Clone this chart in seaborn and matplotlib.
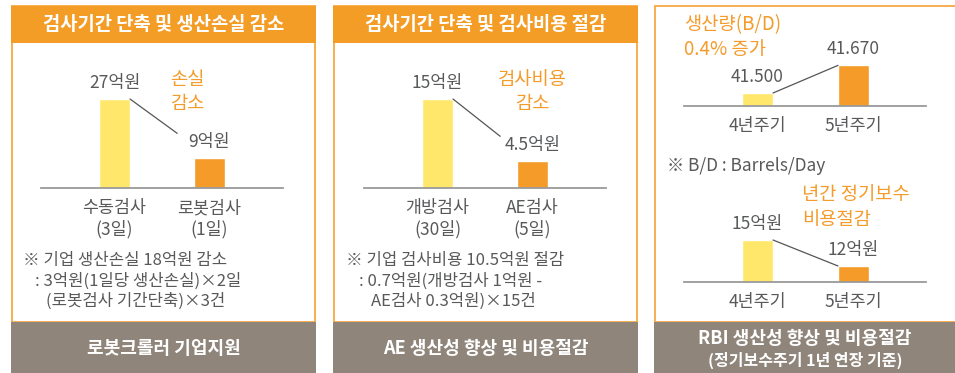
import matplotlib
matplotlib.use("Agg")
import matplotlib.pyplot as plt
from matplotlib.patches import Rectangle
from matplotlib.transforms import IdentityTransform
import seaborn as sns
import pandas as pd

sns.set_theme(style="white")
plt.rcParams['font.family'] = ['Noto Sans CJK KR', 'DejaVu Sans']

# ---- data ----
crawler_cats = ["수동검사\n(3일)", "로봇검사\n(1일)"]
crawler_loss = [27, 9]

ae_cats = ["개방검사\n(30일)", "AE검사\n(5일)"]
ae_cost = [15, 4.5]

rbi_cats = ["4년주기", "5년주기"]
rbi_output = [41.500, 41.670]
rbi_cost = [15, 12]

panel_headers = ["검사기간 단축 및 생산손실 감소", "검사기간 단축 및 검사비용 절감"]
panel_footers = ["로봇크롤러 기업지원", "AE 생산성 향상 및 비용절감"]
rbi_footer = ["RBI 생산성 향상 및 비용절감", "(정기보수주기 1년 연장 기준)"]

crawler_note = ["※ 기업 생산손실 18억원 감소",
                ": 3억원(1일당 생산손실)×2일",
                "(로봇검사 기간단축)×3건"]
ae_note = ["※ 기업 검사비용 10.5억원 절감",
           ": 0.7억원(개방검사 1억원 -",
           "AE검사 0.3억원)×15건"]
rbi_note = "※ B/D : Barrels/Day"

callouts = ["손실\n감소", "검사비용\n감소", "생산량(B/D)\n0.4% 증가", "년간 정기보수\n비용절감"]

# ---- style ----
YELLOW = "#FFE76B"
ORANGE = "#F49B2A"
HEADER = "#F39C26"
BORDER = "#F7A842"
BROWN = "#8F857A"
GREY = "#58595B"
AXIS = "#9A9A9A"

W, H = 955, 373
fig = plt.figure(figsize=(W / 100, H / 100), dpi=100)
fig.patch.set_facecolor("white")

bg = fig.add_axes([0, 0, 1, 1])
bg.set_xlim(0, W)
bg.set_ylim(H, 0)
bg.axis("off")

# panel frames
panels = [(12, 315, True), (334, 637, True), (655, 957, False)]
for x0, x1, has_header in panels:
    bg.add_patch(Rectangle((x0, 6), x1 - x0, 322 - 6, facecolor="white",
                           edgecolor=BORDER, lw=1.3, zorder=1))
    if has_header:
        bg.add_patch(Rectangle((x0 - 0.6, 6), x1 - x0 + 1.2, 37,
                               facecolor=HEADER, edgecolor="none", zorder=2))
    bg.add_patch(Rectangle((x0 - 0.6, 322), x1 - x0 + 1.2, 52,
                           facecolor=BROWN, edgecolor="none", zorder=2))

for (x0, x1, _), title in zip(panels[:2], panel_headers):
    bg.text((x0 + x1) / 2, 25, title, ha="center", va="center", color="white",
            fontsize=13.5, fontweight="bold", zorder=3)
for (x0, x1, _), title in zip(panels[:2], panel_footers):
    bg.text((x0 + x1) / 2, 349, title, ha="center", va="center", color="white",
            fontsize=13, fontweight="bold", zorder=3)
bg.text(805, 339, rbi_footer[0], ha="center", va="center", color="white",
        fontsize=13, fontweight="bold", zorder=3)
bg.text(805, 360, rbi_footer[1], ha="center", va="center", color="white",
        fontsize=11.5, fontweight="bold", zorder=3)

# footnotes
NOTE_FS = 12
for (x, y), line in zip([(23, 261), (35, 281), (46, 301)], crawler_note):
    bg.text(x, y, line, ha="left", va="center", color=GREY, fontsize=NOTE_FS, zorder=3)
for (x, y), line in zip([(346, 261), (359, 281), (371, 301)], ae_note):
    bg.text(x, y, line, ha="left", va="center", color=GREY, fontsize=NOTE_FS, zorder=3)
bg.text(667, 166, rbi_note, ha="left", va="center", color=GREY, fontsize=12.5, zorder=3)

# orange callouts
CALL_FS = 13.5
bg.text(187.5, 91.5, callouts[0], ha="center", va="center", color=ORANGE,
        fontsize=CALL_FS, linespacing=1.25, multialignment="center", zorder=3)
bg.text(532, 91.5, callouts[1], ha="center", va="center", color=ORANGE,
        fontsize=CALL_FS, linespacing=1.25, multialignment="center", zorder=3)
bg.text(684, 37, callouts[2], ha="left", va="center", color=ORANGE,
        fontsize=CALL_FS, linespacing=1.25, zorder=3)
bg.text(802, 207, callouts[3], ha="left", va="center", color=ORANGE,
        fontsize=CALL_FS, linespacing=1.25, zorder=3)


def bar_chart(cats, vals, fmt, x0, x1, base, c0, c1, top1, vmin, link):
    """Two-bar chart whose baseline runs from x0..x1 at pixel row `base`."""
    height = 110
    ax = fig.add_axes([x0 / W, 1 - base / H, (x1 - x0) / W, height / H])
    ax.patch.set_visible(False)
    unit = c1 - c0
    width = 31 / unit
    df = pd.DataFrame({"cat": cats, "val": vals})
    sns.barplot(data=df, x="cat", y="val", hue="cat", palette=[YELLOW, ORANGE],
                saturation=1, width=width, legend=False, ax=ax, zorder=2)
    ax.set_xlim(-(c0 - x0) / unit, 1 + (x1 - c1) / unit)
    scale = (base - top1) / (vals[0] - vmin)
    ax.set_ylim(vmin, vmin + height / scale)
    for side in ("top", "right", "left"):
        ax.spines[side].set_visible(False)
    ax.spines["bottom"].set_color(AXIS)
    ax.spines["bottom"].set_linewidth(1.3)
    ax.spines["bottom"].set_zorder(3)
    ax.set_yticks([])
    ax.set_xlabel("")
    ax.set_ylabel("")
    ax.tick_params(axis="x", length=0, pad=8)
    ax.set_xticks([0, 1])
    ax.set_xticklabels(cats, fontsize=12.5, color=GREY, linespacing=1.2)
    for i, v in enumerate(vals):
        ax.annotate(fmt(v), xy=(i, v), xytext=(0, 16), textcoords="offset pixels",
                    ha="center", va="center", fontsize=12.5, color=GREY,
                    annotation_clip=False)
    # connector from the first bar's corner toward the second bar
    fig.canvas.draw()
    p0 = ax.transData.transform((width / 2, vals[0]))
    if link == "label":
        p1 = ax.transData.transform((1 - 0.34, vals[1]))
        p1[1] += 25
    else:
        p1 = ax.transData.transform((1 - width / 2, vals[1]))
    ax.plot([p0[0], p1[0]], [p0[1], p1[1]], transform=IdentityTransform(),
            color="#555555", lw=0.9, clip_on=False, zorder=4)
    return ax


won = lambda v: f"{v:g}억원"
bar_chart(crawler_cats, crawler_loss, won, 41, 283, 188, 114.5, 209.5, 99, 0, "label")
bar_chart(ae_cats, ae_cost, won, 364, 606, 188, 437.5, 532.5, 99, 0, "label")
bar_chart(rbi_cats, rbi_output, lambda v: f"{v:.3f}", 684, 926, 106, 757.5, 853.5, 93, 41.42, "bar")
bar_chart(rbi_cats, rbi_cost, won, 684, 926, 282, 757.5, 853.5, 240, 10.15, "bar")

fig.savefig("out.png", dpi=100, facecolor="white")
